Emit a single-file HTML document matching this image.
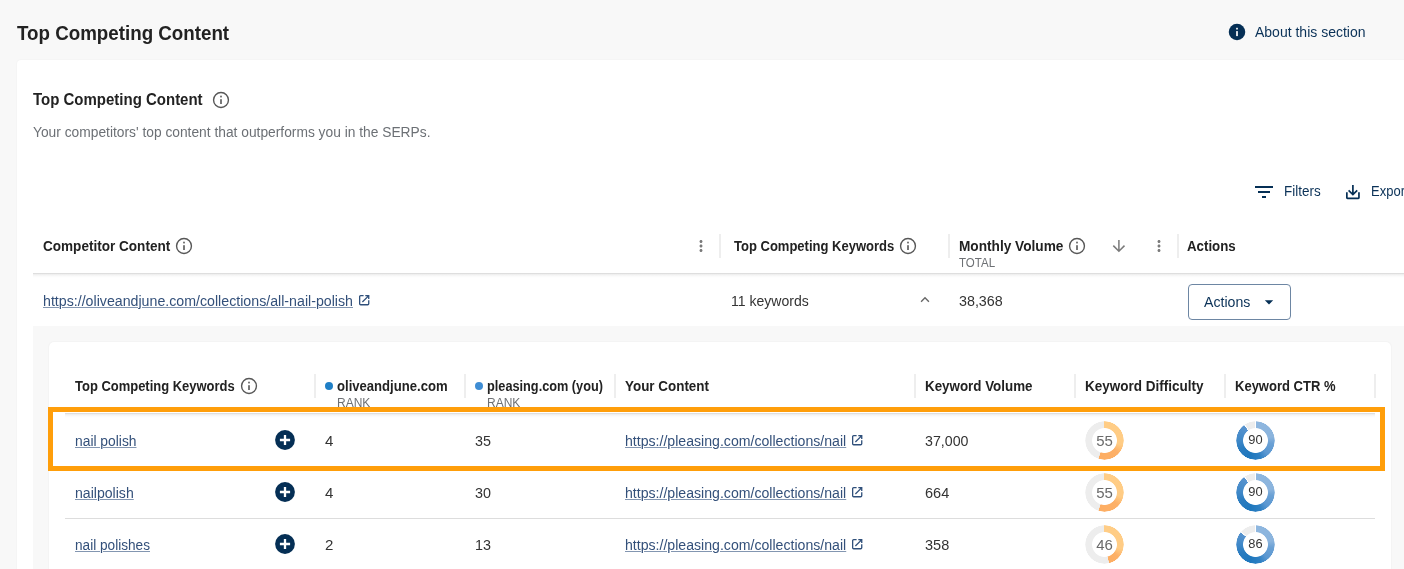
<!DOCTYPE html>
<html lang="en">
<head>
<meta charset="utf-8">
<title>Top Competing Content</title>
<style>
html,body{margin:0;padding:0;background:#f8f8f8}
body{width:1404px;height:569px;overflow:hidden;position:relative;background:#f8f8f8;font-family:"Liberation Sans",sans-serif}
.card{position:absolute;left:17px;top:60px;width:1500px;height:600px;background:#fff;border-radius:4px;box-shadow:0 0 2px rgba(0,0,0,.06)}
.hdrline{position:absolute;left:33px;top:273px;width:1500px;height:5px;background:linear-gradient(#dedede 0,#dedede 1px,rgba(0,0,0,.075) 1px,rgba(0,0,0,.03) 2.6px,rgba(0,0,0,.008) 4px,rgba(0,0,0,0) 5px)}
.detail{position:absolute;left:33px;top:326px;width:1500px;height:300px;background:#f8f8f8}
.inner{position:absolute;left:49px;top:342px;width:1342px;height:300px;background:#fff;border-radius:5px;box-shadow:0 0 2px rgba(0,0,0,.07)}
.ihdrline{position:absolute;left:65px;top:413px;width:1310px;height:5px;background:linear-gradient(#dedede 0,#dedede 1px,rgba(0,0,0,.075) 1px,rgba(0,0,0,.03) 2.6px,rgba(0,0,0,.008) 4px,rgba(0,0,0,0) 5px)}
.rowline{position:absolute;left:65px;width:1310px;height:1px;background:#dddddd}
.hl{position:absolute;left:48px;top:407px;width:1327px;height:54px;border:5px solid #ff9e0a}
.btn{position:absolute;left:1188px;top:284px;width:101px;height:34px;border:1px solid #6d86a3;border-radius:4px;background:#fff}
.t{position:absolute;white-space:nowrap;line-height:1;transform-origin:0 0}
.u{text-decoration:underline;text-decoration-thickness:1px;text-underline-offset:.6px;text-decoration-color:#8396b1}
.ic{position:absolute;overflow:visible}
.sep{position:absolute;width:2px;background:#eeeeee}
.donut{position:absolute;width:39px;height:39px}
.donut b{position:absolute;left:0;width:39px;text-align:center;font-weight:400;line-height:1;transform:scaleX(1.07)}
.donut i{position:absolute;left:0;top:0;width:39px;height:39px;border-radius:50%;-webkit-mask:radial-gradient(circle,transparent 0,transparent 12px,#000 12.8px,#000 18.9px,transparent 19.5px);mask:radial-gradient(circle,transparent 0,transparent 12px,#000 12.8px,#000 18.9px,transparent 19.5px)}
.dot{position:absolute;width:8px;height:8px;border-radius:50%}
</style>
</head>
<body>

<header>
<svg class="ic" style="left:1227px;top:22px" width="20" height="20" viewBox="0 0 20 20"><circle cx="10" cy="10" r="8.25" fill="#052f55"/><rect x="9.15" y="5.8" width="1.7" height="1.7" fill="#fff"/><rect x="9.15" y="9.1" width="1.7" height="5" fill="#fff"/></svg>
</header>
<main>
<section class="card"></section>
<svg class="ic" style="left:211.00px;top:89.90px" width="20" height="20" viewBox="0 0 20 20"><circle cx="10" cy="10" r="7.45" fill="none" stroke="#575757" stroke-width="1.4"/><rect x="9.2" y="5.7" width="1.6" height="1.7" fill="#575757"/><rect x="9.2" y="9.2" width="1.6" height="4.8" fill="#575757"/></svg>
<svg class="ic" style="left:1252px;top:180px" width="24" height="24" viewBox="0 0 24 24"><path fill="#052f55" d="M10 18h4v-2h-4v2zM3 6v2h18V6H3zm3 7h12v-2H6v2z"/></svg>
<svg class="ic" style="left:1343px;top:182px" width="20" height="20" viewBox="0 0 20 20" fill="none" stroke="#052f55" stroke-width="1.7"><path d="M3.85 10.3v5.4a.6.6 0 0 0 .6.6h10.9a.6.6 0 0 0 .6-.6v-5.4"/><path d="M9.9 3.1v9.2M5.6 8.4l4.3 4.1 4.3-4.1"/></svg>
<div class="hdrline"></div>
<svg class="ic" style="left:174.00px;top:236.20px" width="20" height="20" viewBox="0 0 20 20"><circle cx="10" cy="10" r="7.45" fill="none" stroke="#575757" stroke-width="1.4"/><rect x="9.2" y="5.7" width="1.6" height="1.7" fill="#575757"/><rect x="9.2" y="9.2" width="1.6" height="4.8" fill="#575757"/></svg>
<svg class="ic" style="left:692.00px;top:237.00px" width="18" height="18" viewBox="0 0 24 24"><path fill="#7a7a7a" d="M12 8c1.1 0 2-.9 2-2s-.9-2-2-2-2 .9-2 2 .9 2 2 2zm0 2c-1.100 0-2 .9-2 2s.9 2 2 2 2-.9 2-2-.9-2-2-2zm0 6c-1.100 0-2 .9-2 2s.9 2 2 2 2-.9 2-2-.9-2-2-2z"/></svg>
<i class="sep" style="left:719.0px;top:234px;height:24px"></i>
<svg class="ic" style="left:898.00px;top:236.20px" width="20" height="20" viewBox="0 0 20 20"><circle cx="10" cy="10" r="7.45" fill="none" stroke="#575757" stroke-width="1.4"/><rect x="9.2" y="5.7" width="1.6" height="1.7" fill="#575757"/><rect x="9.2" y="9.2" width="1.6" height="4.8" fill="#575757"/></svg>
<i class="sep" style="left:948.0px;top:234px;height:24px"></i>
<svg class="ic" style="left:1067.20px;top:236.20px" width="20" height="20" viewBox="0 0 20 20"><circle cx="10" cy="10" r="7.45" fill="none" stroke="#575757" stroke-width="1.4"/><rect x="9.2" y="5.7" width="1.6" height="1.7" fill="#575757"/><rect x="9.2" y="9.2" width="1.6" height="4.8" fill="#575757"/></svg>
<svg class="ic" style="left:1111px;top:238px" width="16" height="16" viewBox="0 0 16 16" fill="none" stroke="#7a7a7a" stroke-width="1.5"><path d="M7.9 2v11.4M2.3 7.6l5.6 5.7 5.6-5.7"/></svg>
<svg class="ic" style="left:1150.00px;top:237.00px" width="18" height="18" viewBox="0 0 24 24"><path fill="#7a7a7a" d="M12 8c1.1 0 2-.9 2-2s-.9-2-2-2-2 .9-2 2 .9 2 2 2zm0 2c-1.100 0-2 .9-2 2s.9 2 2 2 2-.9 2-2-.9-2-2-2zm0 6c-1.100 0-2 .9-2 2s.9 2 2 2 2-.9 2-2-.9-2-2-2z"/></svg>
<i class="sep" style="left:1177.0px;top:234px;height:24px"></i>
<svg class="ic" style="left:357.90px;top:293.80px" width="12.4" height="12.4" viewBox="-1 -1 12.4 12.4" fill="none" stroke="#2f4f7a" stroke-width="1.3"><path d="M4.6 0.65H1.65a1 1 0 0 0-1 1V8.75a1 1 0 0 0 1 1H8.75a1 1 0 0 0 1-1V5.3"/><path d="M3.4 7L9.3 1.1"/><path d="M6.3 0.65H9.75V4.1" stroke-linejoin="miter"/><path d="M7.4 0.9H9.5V3z" fill="#2f4f7a" stroke="none"/></svg>
<svg class="ic" style="left:917px;top:292px" width="16" height="16" viewBox="0 0 16 16" fill="none" stroke="#666" stroke-width="1.35"><path d="M4.1 9.7L8 5.7l3.9 4"/></svg>
<div class="btn"></div>
<svg class="ic" style="left:1259px;top:292px" width="20" height="20" viewBox="0 0 24 24"><path fill="#052f55" d="M7 10l5 5 5-5z"/></svg>
<div class="detail"></div>
<section class="inner"></section>
<svg class="ic" style="left:238.50px;top:376.40px" width="20" height="20" viewBox="0 0 20 20"><circle cx="10" cy="10" r="7.45" fill="none" stroke="#575757" stroke-width="1.4"/><rect x="9.2" y="5.7" width="1.6" height="1.7" fill="#575757"/><rect x="9.2" y="9.2" width="1.6" height="4.8" fill="#575757"/></svg>
<i class="sep" style="left:314.0px;top:374px;height:24px"></i>
<i class="sep" style="left:464.0px;top:374px;height:24px"></i>
<i class="sep" style="left:614.0px;top:374px;height:24px"></i>
<i class="sep" style="left:914.0px;top:374px;height:24px"></i>
<i class="sep" style="left:1074.0px;top:374px;height:24px"></i>
<i class="sep" style="left:1224.0px;top:374px;height:24px"></i>
<i class="sep" style="left:1374.0px;top:374px;height:24px"></i>
<i class="dot" style="left:325px;top:381.7px;background:#1f7fc6"></i>
<i class="dot" style="left:475px;top:381.7px;background:#3f8dd4"></i>
<div class="ihdrline"></div>
<div class="rowline" style="top:466px"></div>
<div class="rowline" style="top:518px"></div>
<svg class="ic" style="left:273.00px;top:428.00px" width="24" height="24" viewBox="0 0 24 24"><circle cx="12" cy="12" r="9.9" fill="#052f55"/><path d="M6.9 12h10.2M12 6.9v10.2" stroke="#fff" stroke-width="2.3"/></svg>
<svg class="ic" style="left:850.90px;top:433.80px" width="12.4" height="12.4" viewBox="-1 -1 12.4 12.4" fill="none" stroke="#2f4f7a" stroke-width="1.3"><path d="M4.6 0.65H1.65a1 1 0 0 0-1 1V8.75a1 1 0 0 0 1 1H8.75a1 1 0 0 0 1-1V5.3"/><path d="M3.4 7L9.3 1.1"/><path d="M6.3 0.65H9.75V4.1" stroke-linejoin="miter"/><path d="M7.4 0.9H9.5V3z" fill="#2f4f7a" stroke="none"/></svg>
<div class="donut" style="left:1085.1px;top:420.5px"><i style="background:conic-gradient(#ffcd86 0deg,#ffcc85 104.0deg,#fdb067 132.0deg,#fdad62 198.0deg,#ededed 198.6deg,#ededed 359.4deg,#ffcd86 360deg)"></i><b style="font-size:14px;color:#6a6a6a;top:13.55px">55</b></div>
<div class="donut" style="left:1235.5px;top:420.5px"><i style="background:conic-gradient(#fff 0deg,#fff 1.6deg,#8fb7df 2.6deg,#8bb4dd 78deg,#6ba1d5 100deg,#5a97d1 140deg,#2e80c3 165deg,#1e77bd 200deg,#2a7cc0 240deg,#3f88c8 270deg,#5893ce 323.0deg,#fff 324.0deg,#fff 326.4deg,#ededed 327.4deg,#ededed 357.4deg,#fff 358.4deg)"></i><b style="font-size:12px;color:#333;top:13.34px">90</b></div>
<svg class="ic" style="left:273.00px;top:480.00px" width="24" height="24" viewBox="0 0 24 24"><circle cx="12" cy="12" r="9.9" fill="#052f55"/><path d="M6.9 12h10.2M12 6.9v10.2" stroke="#fff" stroke-width="2.3"/></svg>
<svg class="ic" style="left:850.90px;top:485.80px" width="12.4" height="12.4" viewBox="-1 -1 12.4 12.4" fill="none" stroke="#2f4f7a" stroke-width="1.3"><path d="M4.6 0.65H1.65a1 1 0 0 0-1 1V8.75a1 1 0 0 0 1 1H8.75a1 1 0 0 0 1-1V5.3"/><path d="M3.4 7L9.3 1.1"/><path d="M6.3 0.65H9.75V4.1" stroke-linejoin="miter"/><path d="M7.4 0.9H9.5V3z" fill="#2f4f7a" stroke="none"/></svg>
<div class="donut" style="left:1085.1px;top:472.5px"><i style="background:conic-gradient(#ffcd86 0deg,#ffcc85 104.0deg,#fdb067 132.0deg,#fdad62 198.0deg,#ededed 198.6deg,#ededed 359.4deg,#ffcd86 360deg)"></i><b style="font-size:14px;color:#6a6a6a;top:13.55px">55</b></div>
<div class="donut" style="left:1235.5px;top:472.5px"><i style="background:conic-gradient(#fff 0deg,#fff 1.6deg,#8fb7df 2.6deg,#8bb4dd 78deg,#6ba1d5 100deg,#5a97d1 140deg,#2e80c3 165deg,#1e77bd 200deg,#2a7cc0 240deg,#3f88c8 270deg,#5893ce 323.0deg,#fff 324.0deg,#fff 326.4deg,#ededed 327.4deg,#ededed 357.4deg,#fff 358.4deg)"></i><b style="font-size:12px;color:#333;top:13.34px">90</b></div>
<svg class="ic" style="left:273.00px;top:532.00px" width="24" height="24" viewBox="0 0 24 24"><circle cx="12" cy="12" r="9.9" fill="#052f55"/><path d="M6.9 12h10.2M12 6.9v10.2" stroke="#fff" stroke-width="2.3"/></svg>
<svg class="ic" style="left:850.90px;top:537.80px" width="12.4" height="12.4" viewBox="-1 -1 12.4 12.4" fill="none" stroke="#2f4f7a" stroke-width="1.3"><path d="M4.6 0.65H1.65a1 1 0 0 0-1 1V8.75a1 1 0 0 0 1 1H8.75a1 1 0 0 0 1-1V5.3"/><path d="M3.4 7L9.3 1.1"/><path d="M6.3 0.65H9.75V4.1" stroke-linejoin="miter"/><path d="M7.4 0.9H9.5V3z" fill="#2f4f7a" stroke="none"/></svg>
<div class="donut" style="left:1085.1px;top:524.5px"><i style="background:conic-gradient(#ffcd86 0deg,#ffcc85 104.0deg,#fdb067 132.0deg,#fdad62 165.6deg,#ededed 166.2deg,#ededed 359.4deg,#ffcd86 360deg)"></i><b style="font-size:14px;color:#6a6a6a;top:13.55px">46</b></div>
<div class="donut" style="left:1235.5px;top:524.5px"><i style="background:conic-gradient(#fff 0deg,#fff 1.6deg,#8fb7df 2.6deg,#8bb4dd 78deg,#6ba1d5 100deg,#5a97d1 140deg,#2e80c3 165deg,#1e77bd 200deg,#2a7cc0 240deg,#3f88c8 270deg,#5893ce 308.6deg,#fff 309.6deg,#fff 312.0deg,#ededed 313.0deg,#ededed 357.4deg,#fff 358.4deg)"></i><b style="font-size:12px;color:#333;top:13.34px">86</b></div>
<span class="t" style="left:16.50px;top:23.07px;font-size:20px;font-weight:700;color:#222222;transform:scaleX(0.9375)">Top Competing Content</span>
<span class="t" style="left:1255.44px;top:25.35px;font-size:14px;font-weight:400;color:#0a3157;transform:scaleX(0.9997)">About this section</span>
<span class="t" style="left:32.86px;top:92.46px;font-size:16px;font-weight:700;color:#222222;transform:scaleX(0.9371)">Top Competing Content</span>
<span class="t" style="left:32.94px;top:125.35px;font-size:14px;font-weight:400;color:#6c7075;transform:scaleX(0.9846)">Your competitors&#x27; top content that outperforms you in the SERPs.</span>
<span class="t" style="left:1284.14px;top:184.35px;font-size:14px;font-weight:400;color:#0a3157;transform:scaleX(0.9621)">Filters</span>
<span class="t" style="left:1370.84px;top:184.35px;font-size:14px;font-weight:400;color:#0a3157;transform:scaleX(0.9286)">Export</span>
<span class="t" style="left:42.69px;top:239.40px;font-size:14px;font-weight:700;color:#222222;transform:scaleX(0.9680)">Competitor Content</span>
<span class="t" style="left:733.94px;top:239.40px;font-size:14px;font-weight:700;color:#222222;transform:scaleX(0.9293)">Top Competing Keywords</span>
<span class="t" style="left:958.69px;top:239.40px;font-size:14px;font-weight:700;color:#222222;transform:scaleX(0.9753)">Monthly Volume</span>
<span class="t" style="left:958.77px;top:256.84px;font-size:12px;font-weight:400;color:#6d7074;transform:scaleX(0.9604)">TOTAL</span>
<span class="t" style="left:1187.44px;top:239.40px;font-size:14px;font-weight:700;color:#222222;transform:scaleX(0.9481)">Actions</span>
<span class="t u" style="left:42.69px;top:294.40px;font-size:14px;font-weight:400;color:#33507a;transform:scaleX(1.0136)">https://oliveandjune.com/collections/all-nail-polish</span>
<span class="t" style="left:730.69px;top:294.40px;font-size:14px;font-weight:400;color:#333333;transform:scaleX(1.0022)">11 keywords</span>
<span class="t" style="left:958.69px;top:294.40px;font-size:14px;font-weight:400;color:#333333;transform:scaleX(1.0211)">38,368</span>
<span class="t" style="left:1204.44px;top:294.95px;font-size:14px;font-weight:400;color:#0a3157;transform:scaleX(1.0100)">Actions</span>
<span class="t" style="left:74.94px;top:379.15px;font-size:14px;font-weight:700;color:#222222;transform:scaleX(0.9264)">Top Competing Keywords</span>
<span class="t" style="left:337.04px;top:379.15px;font-size:14px;font-weight:700;color:#222222;transform:scaleX(0.9351)">oliveandjune.com</span>
<span class="t" style="left:337.02px;top:397.14px;font-size:12px;font-weight:400;color:#6d7074;transform:scaleX(0.9999)">RANK</span>
<span class="t" style="left:486.94px;top:379.15px;font-size:14px;font-weight:700;color:#222222;transform:scaleX(0.9091)">pleasing.com (you)</span>
<span class="t" style="left:487.02px;top:397.14px;font-size:12px;font-weight:400;color:#6d7074;transform:scaleX(0.9999)">RANK</span>
<span class="t" style="left:624.94px;top:379.15px;font-size:14px;font-weight:700;color:#222222;transform:scaleX(0.9584)">Your Content</span>
<span class="t" style="left:924.94px;top:379.15px;font-size:14px;font-weight:700;color:#222222;transform:scaleX(0.9550)">Keyword Volume</span>
<span class="t" style="left:1084.94px;top:379.15px;font-size:14px;font-weight:700;color:#222222;transform:scaleX(0.9640)">Keyword Difficulty</span>
<span class="t" style="left:1234.94px;top:379.15px;font-size:14px;font-weight:700;color:#222222;transform:scaleX(0.9293)">Keyword CTR %</span>
<span class="t u" style="left:74.94px;top:433.65px;font-size:14px;font-weight:400;color:#33507a;transform:scaleX(0.9874)">nail polish</span>
<span class="t" style="left:324.94px;top:433.65px;font-size:14px;font-weight:400;color:#333333;transform:scaleX(1.0748)">4</span>
<span class="t" style="left:474.94px;top:433.65px;font-size:14px;font-weight:400;color:#333333;transform:scaleX(1.0258)">35</span>
<span class="t u" style="left:624.94px;top:433.65px;font-size:14px;font-weight:400;color:#33507a;transform:scaleX(1.0081)">https://pleasing.com/collections/nail</span>
<span class="t" style="left:924.94px;top:433.65px;font-size:14px;font-weight:400;color:#333333;transform:scaleX(1.0152)">37,000</span>
<span class="t u" style="left:74.94px;top:485.65px;font-size:14px;font-weight:400;color:#33507a;transform:scaleX(1.0061)">nailpolish</span>
<span class="t" style="left:324.94px;top:485.65px;font-size:14px;font-weight:400;color:#333333;transform:scaleX(1.0748)">4</span>
<span class="t" style="left:474.94px;top:485.65px;font-size:14px;font-weight:400;color:#333333;transform:scaleX(1.0258)">30</span>
<span class="t u" style="left:624.94px;top:485.65px;font-size:14px;font-weight:400;color:#33507a;transform:scaleX(1.0081)">https://pleasing.com/collections/nail</span>
<span class="t" style="left:924.94px;top:485.65px;font-size:14px;font-weight:400;color:#333333;transform:scaleX(1.0373)">664</span>
<span class="t u" style="left:74.94px;top:537.65px;font-size:14px;font-weight:400;color:#33507a;transform:scaleX(0.9730)">nail polishes</span>
<span class="t" style="left:324.94px;top:537.65px;font-size:14px;font-weight:400;color:#333333;transform:scaleX(1.0748)">2</span>
<span class="t" style="left:474.94px;top:537.65px;font-size:14px;font-weight:400;color:#333333;transform:scaleX(1.0258)">13</span>
<span class="t u" style="left:624.94px;top:537.65px;font-size:14px;font-weight:400;color:#33507a;transform:scaleX(1.0081)">https://pleasing.com/collections/nail</span>
<span class="t" style="left:924.94px;top:537.65px;font-size:14px;font-weight:400;color:#333333;transform:scaleX(1.0373)">358</span>
<div class="hl"></div>
</main>
</body>
</html>
